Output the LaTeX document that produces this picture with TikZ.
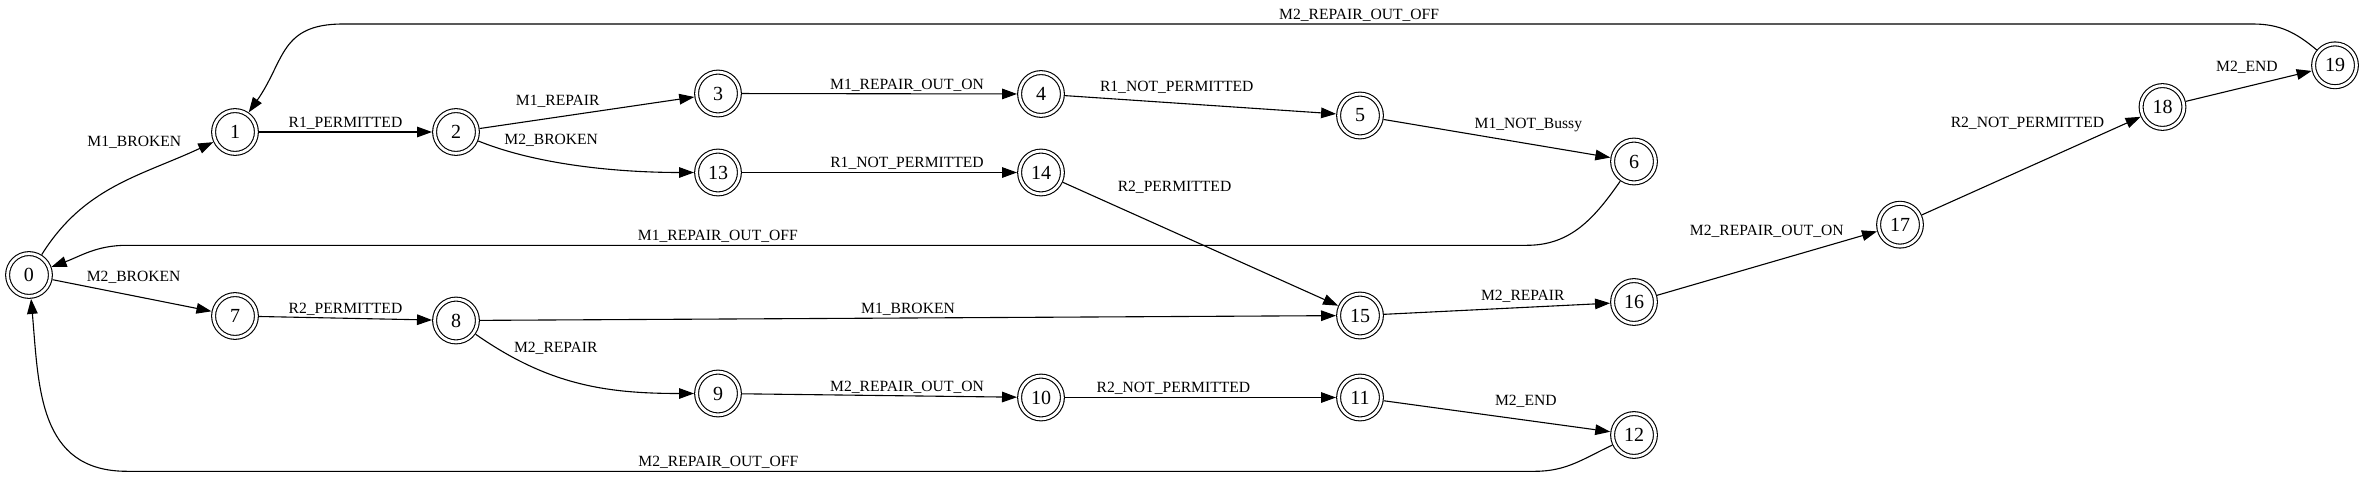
\documentclass[tikz,border=0pt]{standalone}
\usepackage{fontspec}
\setmainfont{Liberation Serif}
\usetikzlibrary{arrows.meta}
\newcommand{\statefont}{\fontsize{10}{12}\selectfont}
\newcommand{\edgefont}{\fontsize{7.8}{9}\selectfont}
\tikzset{
  state/.style={circle, draw, double, double distance=1.4pt, line width=0.55pt,
    minimum size=21.4pt, inner sep=0pt, outer sep=1.3pt, font=\statefont},
  trans/.style={-{Triangle[length=7.5pt,width=5.3pt]}, line width=0.55pt},
  lbl/.style={font=\edgefont, inner sep=1pt}
}
\begin{document}
\begin{tikzpicture}[x=0.5pt, y=0.5pt]
      \useasboundingbox (0,0) rectangle (2365,478);
      \draw
        (29,203) node[state] (0){0}
        (235,346) node[state] (1){1}
        (456,346) node[state] (2){2}
        (718,384.5) node[state] (3){3}
        (1041,384) node[state] (4){4}
        (1360,362.5) node[state] (5){5}
        (1634,316.5) node[state] (6){6}
        (235,162) node[state] (7){7}
        (456,157.5) node[state] (8){8}
        (718,84.5) node[state] (9){9}
        (1041,80.5) node[state] (10){10}
        (1360,80.5) node[state] (11){11}
        (1634,43) node[state] (12){12}
        (718,305.5) node[state] (13){13}
        (1041,305.5) node[state] (14){14}
        (1360,162.5) node[state] (15){15}
        (1634,176) node[state] (16){16}
        (1900,253.3) node[state] (17){17}
        (2162.5,371) node[state] (18){18}
        (2335,412.7) node[state] (19){19};
      \coordinate (a60) at (1527,232.7);
      \coordinate (b60) at (127,232.7);
      \coordinate (a120) at (1535,6.7);
      \coordinate (b120) at (127,6.7);
      \coordinate (a191) at (2253,454);
      \coordinate (b191) at (343,454);
      \begin{scope}[trans]
        \draw (0) to[out=58,in=205] node[lbl,pos=0.86,anchor=south east,yshift=2pt] {M1\_BROKEN} (1);
        \draw (0) to node[lbl,pos=0.2,anchor=south west] {M2\_BROKEN} (7);
        \draw (1) to node[lbl,above] {R1\_PERMITTED} (2);
        \draw (7) to node[lbl,above] {R2\_PERMITTED} (8);
        \draw (2) to node[lbl,pos=0.57,anchor=south east] {M1\_REPAIR} (3);
        \draw (2) to[out=-22,in=180,looseness=0.8] node[lbl,pos=0.12,anchor=south west] {M2\_BROKEN} (13);
        \draw (3) to node[lbl,pos=0.6,above] {M1\_REPAIR\_OUT\_ON} (4);
        \draw (13) to node[lbl,pos=0.6,above] {R1\_NOT\_PERMITTED} (14);
        \draw (4) to node[lbl,pos=0.12,anchor=south west,yshift=1pt] {R1\_NOT\_PERMITTED} (5);
        \draw (5) to node[lbl,pos=0.39,anchor=south west] {M1\_NOT\_Bussy} (6);
        \draw (6) to[out=-125,in=0] (a60) -- node[lbl,pos=0.578,above] {M1\_REPAIR\_OUT\_OFF} (b60) to[out=180,in=20] (0);
        \draw (8) to[out=-35,in=180] node[lbl,pos=0.17,anchor=south west] {M2\_REPAIR} (9);
        \draw (8) to node[lbl,above] {M1\_BROKEN} (15);
        \draw (9) to node[lbl,pos=0.6,above] {M2\_REPAIR\_OUT\_ON} (10);
        \draw (10) to node[lbl,pos=0.4,above] {R2\_NOT\_PERMITTED} (11);
        \draw (11) to node[lbl,pos=0.48,anchor=south west,yshift=3pt] {M2\_END} (12);
        \draw (12) to[out=-155,in=0] (a120) -- node[lbl,pos=0.58,above] {M2\_REPAIR\_OUT\_OFF} (b120) to[out=180,in=-85,looseness=1.15] (0);
        \draw (14) to node[lbl,pos=0.19,anchor=south west,yshift=5pt] {R2\_PERMITTED} (15);
        \draw (15) to node[lbl,pos=0.81,anchor=south east] {M2\_REPAIR} (16);
        \draw (16) to node[lbl,pos=0.86,anchor=south east] {M2\_REPAIR\_OUT\_ON} (17);
        \draw (17) to node[lbl,pos=0.845,anchor=south east] {R2\_NOT\_PERMITTED} (18);
        \draw (18) to node[lbl,pos=0.75,anchor=south east,yshift=1pt] {M2\_END} (19);
        \draw (19) to[out=140,in=0] (a191) -- node[lbl,pos=0.468,above] {M2\_REPAIR\_OUT\_OFF} (b191) to[out=180,in=55,looseness=1.25] (1);
      \end{scope}
    \end{tikzpicture}
\end{document}
